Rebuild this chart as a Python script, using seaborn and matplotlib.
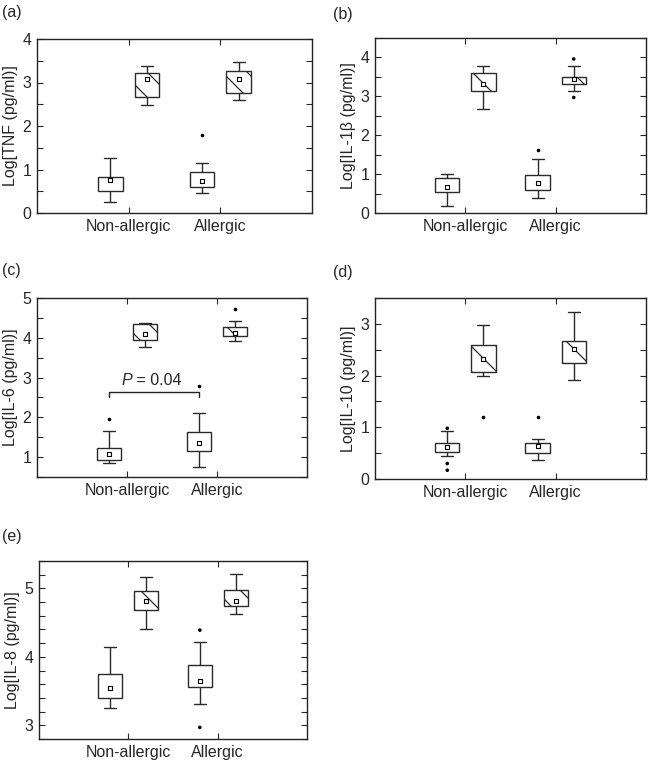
import numpy as np
import pandas as pd
import matplotlib
matplotlib.use("Agg")
import matplotlib.pyplot as plt
from matplotlib.ticker import MultipleLocator
import seaborn as sns

groups = ["Non-allergic", "Allergic"]
conds = ["Unstimulated", "Stimulated"]

# box order: NA-unstim, NA-stim, A-unstim, A-stim ; (low whisker, q1, q3, high whisker)
tnf_box = [[0.25, 0.51, 0.83, 1.27], [2.48, 2.67, 3.22, 3.39],
           [0.47, 0.59, 0.94, 1.14], [2.59, 2.75, 3.26, 3.46]]
tnf_mean = [0.77, 3.09, 0.74, 3.07]
tnf_out = [[], [], [1.79], []]

il1b_box = [[0.17, 0.53, 0.89, 1.01], [2.68, 3.14, 3.59, 3.79],
            [0.38, 0.59, 0.98, 1.39], [3.15, 3.32, 3.50, 3.79]]
il1b_mean = [0.66, 3.31, 0.77, 3.44]
il1b_out = [[], [], [1.62], [3.96, 2.97]]

il6_box = [[0.85, 0.92, 1.24, 1.65], [3.78, 3.94, 4.35, 4.37],
           [0.76, 1.16, 1.62, 2.12], [3.93, 4.04, 4.28, 4.41]]
il6_mean = [1.09, 4.09, 1.35, 4.13]
il6_out = [[1.96], [], [2.80], [4.72]]

il10_box = [[0.45, 0.53, 0.69, 0.92], [2.00, 2.06, 2.60, 2.97],
            [0.36, 0.50, 0.69, 0.77], [1.91, 2.25, 2.66, 3.22]]
il10_mean = [0.61, 2.33, 0.64, 2.51]
il10_out = [[0.98, 0.30, 0.17], [1.19], [1.19], []]

il8_box = [[3.25, 3.40, 3.75, 4.15], [4.40, 4.69, 4.96, 5.16],
           [3.31, 3.56, 3.88, 4.22], [4.62, 4.74, 4.97, 5.21]]
il8_mean = [3.54, 4.81, 3.64, 4.81]
il8_out = [[], [], [4.39, 2.97], []]

sns.set_style("ticks")
plt.rcParams["font.family"] = ["Liberation Sans", "DejaVu Sans"]

# drawn at 75 dpi so the hatch spacing is as wide as in the reference;
# K converts "100-dpi" sizes to points at 75 dpi
DPI = 75
K = 100 / DPI
FS = 11.5 * K
LW = 1.0 * K
plt.rcParams["hatch.linewidth"] = 0.9 * K

W, H = 650, 763
fig = plt.figure(figsize=(W / DPI, H / DPI), dpi=DPI)


def px_axes(left, top, right, bottom):
    return fig.add_axes([left / W, 1 - bottom / H, (right - left) / W, (bottom - top) / H])


def keys():
    return [(g, c) for g in groups for c in conds]


def panel(ax, box, mean, out, ylabel, ylim, major, minor):
    rows = []
    for (g, c), (lo, q1, q3, hi) in zip(keys(), box):
        for v in [lo] + [q1] * 5 + [q3] * 5 + [hi]:
            rows.append((g, c, v))
    df = pd.DataFrame(rows, columns=["group", "cond", "value"])
    kw = dict(x="group", y="value", hue="cond", order=groups, hue_order=conds,
              dodge=True, width=0.8, gap=0.33, whis=(0, 100), showfliers=False,
              fill=True, palette={c: "white" for c in conds},
              linecolor="#2a2a2a", linewidth=LW,
              medianprops={"visible": False}, legend=False, ax=ax)
    sns.boxplot(data=df[df.cond == conds[0]], **kw)
    n0 = len(ax.patches)
    sns.boxplot(data=df[df.cond == conds[1]], **kw)
    for p in ax.patches[n0:]:
        p.set_hatch("\\")

    mdf = pd.DataFrame([(g, c, m) for (g, c), m in zip(keys(), mean)],
                       columns=["group", "cond", "value"])
    sns.stripplot(data=mdf, x="group", y="value", hue="cond", order=groups,
                  hue_order=conds, dodge=True, jitter=False, marker="s", size=2.6 * K,
                  palette={c: "white" for c in conds}, edgecolor="black",
                  linewidth=0.8 * K, legend=False, ax=ax, zorder=5)

    odf = pd.DataFrame([(g, c, v) for (g, c), vs in zip(keys(), out) for v in vs],
                       columns=["group", "cond", "value"])
    sns.stripplot(data=odf, x="group", y="value", hue="cond", order=groups,
                  hue_order=conds, dodge=True, jitter=False, marker="o", size=2.6 * K,
                  palette={c: "black" for c in conds}, linewidth=0,
                  legend=False, ax=ax, zorder=5)

    ax.set_xlim(-1, 2)
    ax.set_ylim(*ylim)
    ax.set_xticks([0, 1])
    ax.set_xticklabels(groups, fontsize=FS)
    ax.set_xlabel("")
    ax.set_ylabel(ylabel, fontsize=FS)
    ax.yaxis.set_major_locator(MultipleLocator(major))
    ax.yaxis.set_minor_locator(MultipleLocator(minor))
    ax.tick_params(which="both", direction="in", top=True, right=True,
                   length=4 * K, width=0.8 * K, labelsize=FS, pad=4 * K)
    ax.tick_params(axis="x", which="minor", top=False, bottom=False)
    for s in ax.spines.values():
        s.set_visible(True)
        s.set_linewidth(LW)
        s.set_color("#222222")


ax_a = px_axes(37, 39, 312, 213)
panel(ax_a, tnf_box, tnf_mean, tnf_out, "Log[TNF (pg/ml)]", (0, 4), 1, 0.5)
ax_b = px_axes(375, 38, 646, 213)
panel(ax_b, il1b_box, il1b_mean, il1b_out, "Log[IL-1β (pg/ml)]", (0, 4.5), 1, 0.5)
ax_c = px_axes(37, 298, 307, 477)
panel(ax_c, il6_box, il6_mean, il6_out, "Log[IL-6 (pg/ml)]", (0.5, 5), 1, 0.5)
ax_d = px_axes(375, 298, 646, 479)
panel(ax_d, il10_box, il10_mean, il10_out, "Log[IL-10 (pg/ml)]", (0, 3.5), 1, 0.5)
ax_e = px_axes(39, 561, 307, 739)
panel(ax_e, il8_box, il8_mean, il8_out, "Log[IL-8 (pg/ml)]", (2.8, 5.4), 1, 0.2)

# significance bracket in (c), between the unstimulated boxes
bracket_y, bracket_drop = 2.64, 0.13
xa, xb = -0.2, 0.8
ax_c.plot([xa, xa, xb, xb], [bracket_y - bracket_drop, bracket_y, bracket_y,
          bracket_y - bracket_drop], color="#222222", lw=LW)
ax_c.text(0.06, bracket_y + 0.1, "P", fontstyle="italic", fontsize=FS,
          ha="right", va="bottom")
ax_c.text(0.06, bracket_y + 0.1, " = 0.04", fontsize=FS, ha="left", va="bottom")

for lab, x, y in [("(a)", 2, 12), ("(b)", 333, 15), ("(c)", 2, 270),
                  ("(d)", 333, 272), ("(e)", 2, 537)]:
    fig.text(x / W, 1 - y / H, lab, fontsize=FS, ha="left", va="center")

fig.savefig("out.png", dpi=DPI)
